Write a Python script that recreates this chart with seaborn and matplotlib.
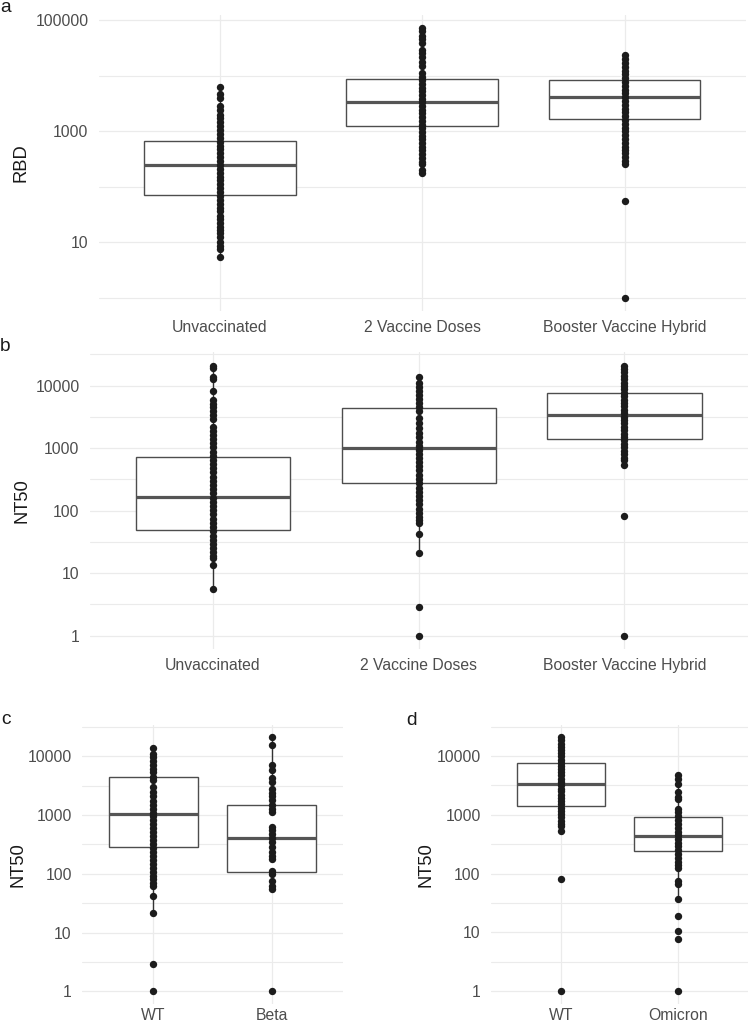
import numpy as np
import pandas as pd
import matplotlib
matplotlib.use("Agg")
import matplotlib.pyplot as plt
import seaborn as sns
from matplotlib.ticker import FixedLocator, FuncFormatter, NullFormatter

# ---------------- data ----------------
# Panel a: RBD
a_categories = ["Unvaccinated", "2 Vaccine Doses", "Booster Vaccine Hybrid"]
a_unvacc = [6300, 4600, 4000, 2800, 2400, 2000, 1700, 1450, 1250, 1050, 900, 760,
            650, 550, 470, 400, 340, 290, 245, 210, 180, 150, 130, 110, 93, 80,
            68, 58, 49, 42, 36, 30, 26, 22, 19, 16.5, 14.4, 12.2, 10.2, 8.7, 7.4, 5.5]
a_2doses = [72000, 64000, 51500, 45000, 39500, 29500, 25200, 21300, 17800, 14800,
            11200, 9600, 8300, 7100, 6100, 5200, 4500, 3850, 3300, 2850, 2450, 2100,
            1800, 1550, 1320, 1130, 970, 830, 710, 610, 520, 450, 385, 330, 280, 255,
            200, 178]
a_booster = [23400, 20000, 17000, 14500, 12400, 10600, 9000, 7700, 6600, 5600, 4800,
             4100, 3500, 3000, 2550, 2200, 1850, 1600, 1350, 1150, 990, 850, 720, 620,
             530, 455, 400, 347, 293, 262, 56, 1]
a_q1 = [70.5, 1230, 1650]
a_median = [245, 3330, 4100]
a_q3 = [662, 8700, 8300]

# Panel b: NT50
b_categories = ["Unvaccinated", "2 Vaccine Doses", "Booster Vaccine Hybrid"]
b_unvacc = [20900, 19400, 13900, 12600, 8300, 5900, 5100, 4500, 3900, 3400, 2900,
            2200, 1900, 1650, 1400, 1200, 1030, 880, 760, 650, 560, 480, 410, 350,
            300, 260, 220, 190, 160, 140, 120, 102, 88, 75, 64, 55, 47, 40, 34, 29,
            25, 21.5, 19, 17.5, 13.5, 5.5]
b_2doses = [13900, 11000, 9500, 8200, 7100, 6100, 5300, 4500, 3900, 3000, 2500, 2100,
            1740, 1500, 1280, 1100, 950, 810, 700, 600, 510, 440, 375, 320, 275, 235,
            200, 172, 148, 127, 108, 93, 80, 70, 63, 42, 21.3, 2.9, 1]
b_booster = [20900, 18500, 16300, 14400, 12700, 11200, 9900, 8700, 7700, 6800, 6000,
             5300, 4700, 4100, 3600, 3200, 2800, 2500, 2200, 1950, 1700, 1500, 1330,
             1170, 1030, 910, 800, 700, 640, 540, 82, 1]
b_q1 = [49, 281, 1390]
b_median = [167, 1020, 3380]
b_q3 = [713, 4350, 7620]

# Panel c: NT50, WT vs Beta
c_categories = ["WT", "Beta"]
c_wt = b_2doses
c_beta = [21000, 15200, 7100, 5900, 4250, 3600, 2770, 2390, 2090, 1770, 1490, 1270,
          1120, 620, 545, 478, 405, 347, 283, 235, 200, 175, 110, 100, 74, 63, 54, 1]
c_q1 = [281, 107]
c_median = [1020, 404]
c_q3 = [4350, 1450]

# Panel d: NT50, WT vs Omicron
d_categories = ["WT", "Omicron"]
d_wt = b_booster
d_omicron = [4700, 4000, 3300, 2400, 2050, 1850, 1250, 1100, 950, 820, 700, 600, 520,
             450, 390, 335, 290, 250, 215, 185, 160, 138, 125, 76, 67, 36.7, 18.9,
             10.4, 7.8, 1]
d_q1 = [1390, 240]
d_median = [3380, 441]
d_q3 = [7620, 935]

# ---------------- style ----------------
sns.set_style("white")
plt.rcParams['font.family'] = ['Liberation Sans', 'DejaVu Sans']

W, H = 750, 1025
fig = plt.figure(figsize=(W / 100, H / 100), dpi=100)

GRID = '#ebebeb'
TICK_COL = '#4d4d4d'


def add_ax(l, r, t, b):
    return fig.add_axes([l / W, 1 - b / H, (r - l) / W, (b - t) / H])


def panel(ax, cats, pts, q1, med, q3, ylabel, major, minor, label_x_px, left_px,
          width_px, xpad=6.0):
    ax.set_yscale('log')
    rows = []
    for c, p, a, m, b in zip(cats, pts, q1, med, q3):
        p = np.asarray(p, dtype=float)
        lp = np.log10(p)
        la, lb = np.log10(a), np.log10(b)
        iqr = lb - la
        inside = p[(lp >= la - 1.5 * iqr) & (lp <= lb + 1.5 * iqr)]
        for v in (inside.min(), a, m, b, inside.max()):
            rows.append((c, v))
    box_df = pd.DataFrame(rows, columns=['group', 'value'])
    pt_df = pd.DataFrame([(c, v) for c, p in zip(cats, pts) for v in p],
                         columns=['group', 'value'])

    sns.boxplot(data=box_df, x='group', y='value', order=cats, whis=(0, 100),
                width=0.75, showfliers=False, showcaps=False, color='white',
                linecolor='#4d4d4d', linewidth=1.0,
                medianprops=dict(linewidth=2.3, color='#555555'),
                whiskerprops=dict(color='#333333', linewidth=1.0),
                ax=ax)
    sns.stripplot(data=pt_df, x='group', y='value', order=cats, jitter=False,
                  size=5.3, color='#1c1c1c', linewidth=0, zorder=3, ax=ax)

    allv = np.log10(pt_df['value'].to_numpy())
    lo, hi = allv.min(), allv.max()
    r = hi - lo
    ax.set_ylim(10 ** (lo - 0.05 * r), 10 ** (hi + 0.05 * r))
    ax.set_xlim(-0.6, len(cats) - 0.4)

    ax.yaxis.set_major_locator(FixedLocator(major))
    ax.yaxis.set_minor_locator(FixedLocator(minor))
    ax.yaxis.set_major_formatter(FuncFormatter(lambda v, p: f'{v:g}'))
    ax.yaxis.set_minor_formatter(NullFormatter())

    ax.set_axisbelow(True)
    ax.grid(True, which='major', axis='both', color=GRID, linewidth=0.9)
    ax.grid(True, which='minor', axis='y', color=GRID, linewidth=0.8)
    ax.tick_params(axis='both', which='both', length=0, labelsize=11.3,
                   labelcolor=TICK_COL)
    ax.tick_params(axis='y', pad=7.2)
    ax.tick_params(axis='x', pad=xpad)
    for s in ax.spines.values():
        s.set_visible(False)
    ax.set_xlabel('')
    ax.set_ylabel(ylabel, fontsize=13.2, color='#1a1a1a', va='center')
    ax.yaxis.set_label_coords((label_x_px - left_px) / width_px, 0.5)


# panel a
ax_a = add_ax(98.6, 746, 14.65, 311.2)
panel(ax_a, a_categories, [a_unvacc, a_2doses, a_booster], a_q1, a_median, a_q3,
      'RBD', [10, 1000, 100000], [1, 100, 10000], 21.2, 98.6, 746 - 98.6)

half_decades = [10 ** 0.5, 10 ** 1.5, 10 ** 2.5, 10 ** 3.5, 10 ** 4.5]

# panel b
ax_b = add_ax(89.6, 747.8, 352.2, 649.2)
panel(ax_b, b_categories, [b_unvacc, b_2doses, b_booster], b_q1, b_median, b_q3,
      'NT50', [1, 10, 100, 1000, 10000], half_decades, 21.8, 89.6, 747.8 - 89.6)

# panel c
ax_c = add_ax(81.8, 342.9, 724.5, 1004.0)
panel(ax_c, c_categories, [c_wt, c_beta], c_q1, c_median, c_q3,
      'NT50', [1, 10, 100, 1000, 10000], half_decades, 18.2, 81.8, 342.9 - 81.8,
      xpad=3.0)

# panel d
ax_d = add_ax(490.7, 748.2, 724.5, 1004.0)
panel(ax_d, d_categories, [d_wt, d_omicron], d_q1, d_median, d_q3,
      'NT50', [1, 10, 100, 1000, 10000], half_decades, 426.5, 490.7, 748.2 - 490.7,
      xpad=3.0)

# panel letters
for letter, x, y in [('a', 0.5, 12), ('b', 0.0, 351), ('c', 1.0, 723.5), ('d', 406, 725)]:
    fig.text(x / W, 1 - y / H, letter, fontsize=13.8, color='#1a1a1a',
             ha='left', va='baseline')

fig.savefig('out.png', dpi=100)
